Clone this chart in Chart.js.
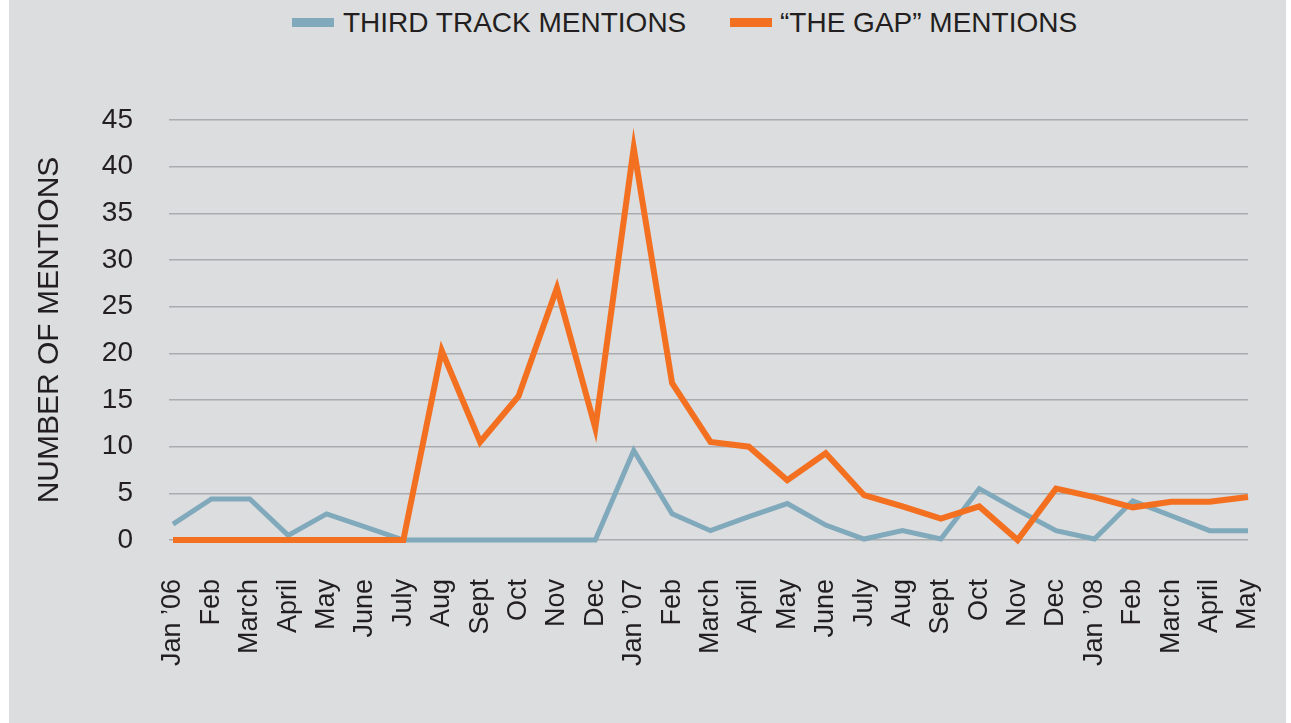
<!DOCTYPE html>
<html>
<head>
<meta charset="utf-8">
<script src="https://cdn.jsdelivr.net/npm/chart.js"></script>
<style>
body{margin:0;background:#fff;font-family:"Liberation Sans",Arial,sans-serif;}
.panel{position:absolute;left:9px;top:0;width:1277px;height:723px;background:#dcdddf;}
#myChart{position:absolute;left:0;top:0;}
.lg-box{position:absolute;top:18px;width:42px;height:9px;}
.lg-text{position:absolute;top:6px;font-size:28px;line-height:34px;color:#231f20;white-space:nowrap;}
</style>
</head>
<body>
<div class="panel"></div>

<!-- legend -->
<span class="lg-box" style="left:292px;background:#80a9bc"></span>
<span class="lg-text" style="left:343px">THIRD TRACK MENTIONS</span>
<span class="lg-box" style="left:730px;background:#f37021"></span>
<span class="lg-text" style="left:780px">“THE GAP” MENTIONS</span>

<canvas id="myChart" width="1291" height="723"></canvas>

<script>
// months Jan 06 -> May 08
const months = ['Jan ’06','Feb','March','April','May','June','July','Aug','Sept','Oct','Nov','Dec',
  'Jan ’07','Feb','March','April','May','June','July','Aug','Sept','Oct','Nov','Dec',
  'Jan ’08','Feb','March','April','May']

const thirdTrack = [1.7,4.4,4.4,0.5,2.8,1.4,0,0,0,0,0,0,
  9.6,2.8,1.0,2.5,3.9,1.6,0.1,1.0,0.1,5.5,3.2,1.0,
  0.1,4.2,2.6,1.0,1.0]

const theGap = [0,0,0,0,0,0,0,20.3,10.5,15.4,27.0,12.0,
  42.0,16.8,10.5,10.0,6.4,9.3,4.8,3.6,2.3,3.6,0,5.5,
  4.6,3.5,4.1,4.1,4.6]

const yTicks = [0,5,10,15,20,25,30,35,40,45]

const textColor = '#231f20'
const gridColor = '#a9abae'

Chart.defaults.font.family = "'Liberation Sans', Arial, sans-serif"
Chart.defaults.color = textColor

const ctx = document.getElementById('myChart')

new Chart(ctx, {
  type: 'line',
  data: {
    labels: months,
    datasets: [{
      label: 'THIRD TRACK MENTIONS',
      data: thirdTrack,
      borderColor: '#80a9bc',
      backgroundColor: '#80a9bc',
      borderWidth: 5,
      pointRadius: 0,
      tension: 0,
      borderJoinStyle: 'miter',
      clip: false,
      order: 2
    }, {
      label: '“THE GAP” MENTIONS',
      data: theGap,
      borderColor: '#f37021',
      backgroundColor: '#f37021',
      borderWidth: 6,
      pointRadius: 0,
      tension: 0,
      borderJoinStyle: 'miter',
      clip: false,
      order: 1
    }]
  },
  options: {
    responsive: false,
    animation: false,
    layout: {padding: {top: 120, right: 43, left: 0, bottom: 0}},
    plugins: {
      legend: {display: false},
      tooltip: {enabled: false}
    },
    scales: {
      x: {
        offset: false,
        grid: {display: false, drawTicks: false},
        border: {display: false},
        ticks: {
          autoSkip: false,
          minRotation: 90,
          maxRotation: 90,
          padding: 39,
          font: {size: 27},
          color: textColor
        },
        afterFit: (scale) => {
          scale.height = 183
          // rotated labels ask for extra room on the right, dont want it
          scale.paddingLeft = 0
          scale.paddingRight = 0
        }
      },
      y: {
        min: 0,
        max: 45,
        afterBuildTicks: (scale) => { scale.ticks = yTicks.map(v => ({value: v})) },
        grid: {color: gridColor, lineWidth: 1.5, tickLength: 4},
        border: {display: false},
        ticks: {padding: 36, font: {size: 28}, color: textColor},
        title: {
          display: true,
          text: 'NUMBER OF MENTIONS',
          font: {size: 30},
          color: textColor,
          padding: {top: 32, bottom: 0}
        },
        afterFit: (scale) => { scale.width = 173 }
      }
    }
  }
})
</script>
</body>
</html>
